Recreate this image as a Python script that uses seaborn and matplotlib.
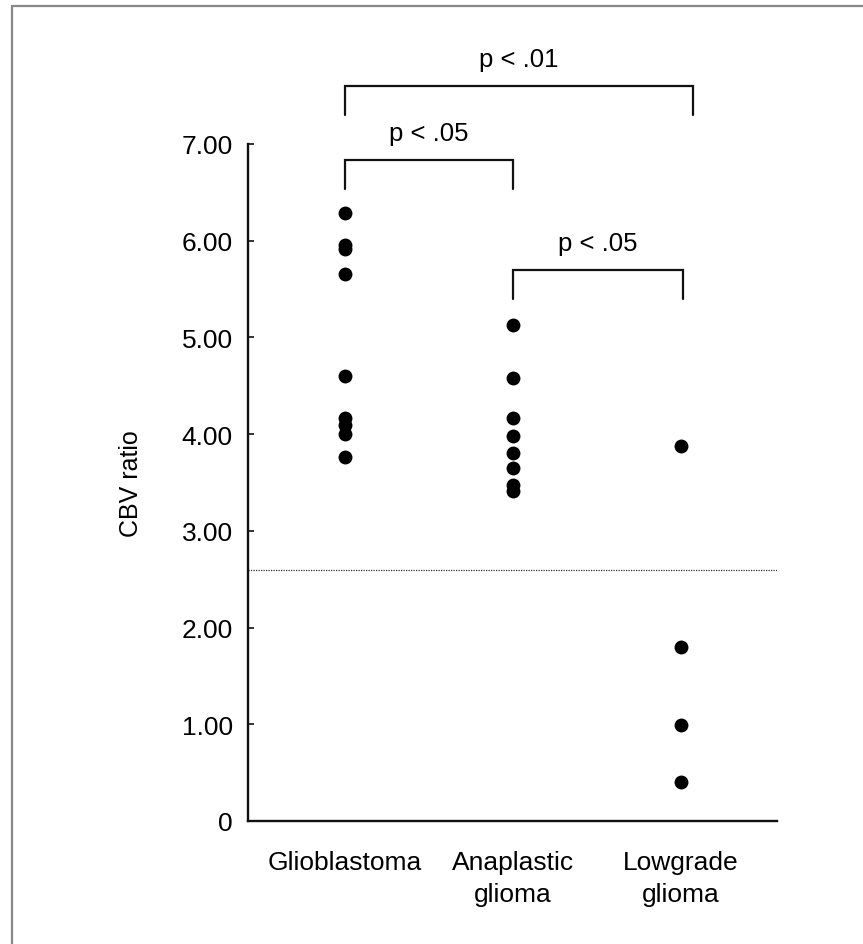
import matplotlib
matplotlib.use("Agg")
import matplotlib.pyplot as plt
from matplotlib.lines import Line2D
import seaborn as sns
import pandas as pd

# CBV ratio per tumour group
categories = ["Glioblastoma", "Anaplastic\nglioma", "Lowgrade\nglioma"]
glioblastoma = [6.29, 5.96, 5.91, 5.66, 4.60, 4.17, 4.09, 4.00, 3.76]
anaplastic = [5.13, 4.58, 4.17, 3.98, 3.80, 3.65, 3.47, 3.41]
lowgrade = [3.88, 1.80, 0.99, 0.40]
threshold = 2.6
yticks = [0, 1, 2, 3, 4, 5, 6, 7]
ytick_labels = ["0", "1.00", "2.00", "3.00", "4.00", "5.00", "6.00", "7.00"]

# significance brackets: (left group, right group, bar height, label)
brackets = [
    (0, 2.07, 7.60, "p < .01"),
    (0, 1.0, 6.83, "p < .05"),
    (1.0, 2.01, 5.70, "p < .05"),
]

groups = [glioblastoma, anaplastic, lowgrade]
df = pd.DataFrame({
    "group": [c for c, vals in zip(categories, groups) for _ in vals],
    "cbv": [v for vals in groups for v in vals],
})

sns.set_theme(style="white")
plt.rcParams["font.family"] = ["Liberation Sans", "DejaVu Sans"]
plt.rcParams["text.color"] = "black"
plt.rcParams["axes.labelcolor"] = "black"
plt.rcParams["xtick.color"] = "black"
plt.rcParams["ytick.color"] = "black"

fig = plt.figure(figsize=(8.63, 9.45), dpi=100)
ax = fig.add_axes([0.2874, 0.1302, 0.6129, 0.7164])

sns.stripplot(data=df, x="group", y="cbv", order=categories, jitter=False,
              color="black", size=10, linewidth=0, ax=ax, clip_on=False)

ax.axhline(threshold, color="#333333", lw=0.9, ls=(0, (1, 1)))

ax.set_xlim(-0.577, 2.571)
ax.set_ylim(0, 7)
ax.set_yticks(yticks)
ax.set_yticklabels(ytick_labels, fontsize=19)
ax.tick_params(axis="y", direction="in", length=4.5, width=1.2, pad=11,
               color="#111111", left=True)
ax.tick_params(axis="x", length=0, pad=21, labelsize=19)
for lbl in ax.get_xticklabels():
    lbl.set_linespacing(1.4)
ax.set_xlabel("")
ax.set_ylabel("CBV ratio", fontsize=18, labelpad=28)

for side in ("top", "right"):
    ax.spines[side].set_visible(False)
for side in ("left", "bottom"):
    ax.spines[side].set_linewidth(1.7)
    ax.spines[side].set_color("#111111")

leg = 0.30
for x0, x1, h, label in brackets:
    ax.plot([x0, x0, x1, x1], [h - leg, h, h, h - leg], color="#111111",
            lw=1.6, clip_on=False, solid_joinstyle="miter")
    ax.text((x0 + x1) / 2, h + 0.28, label, ha="center", va="center",
            fontsize=18.5, clip_on=False)

# outer frame edge (left and top)
fig.add_artist(Line2D([12 / 863, 12 / 863], [0, 1 - 7 / 945],
                      transform=fig.transFigure, color="#888888", lw=1.6))
fig.add_artist(Line2D([12 / 863, 1], [1 - 7 / 945, 1 - 7 / 945],
                      transform=fig.transFigure, color="#888888", lw=1.6))

fig.savefig("out.png", dpi=100, facecolor="white")
